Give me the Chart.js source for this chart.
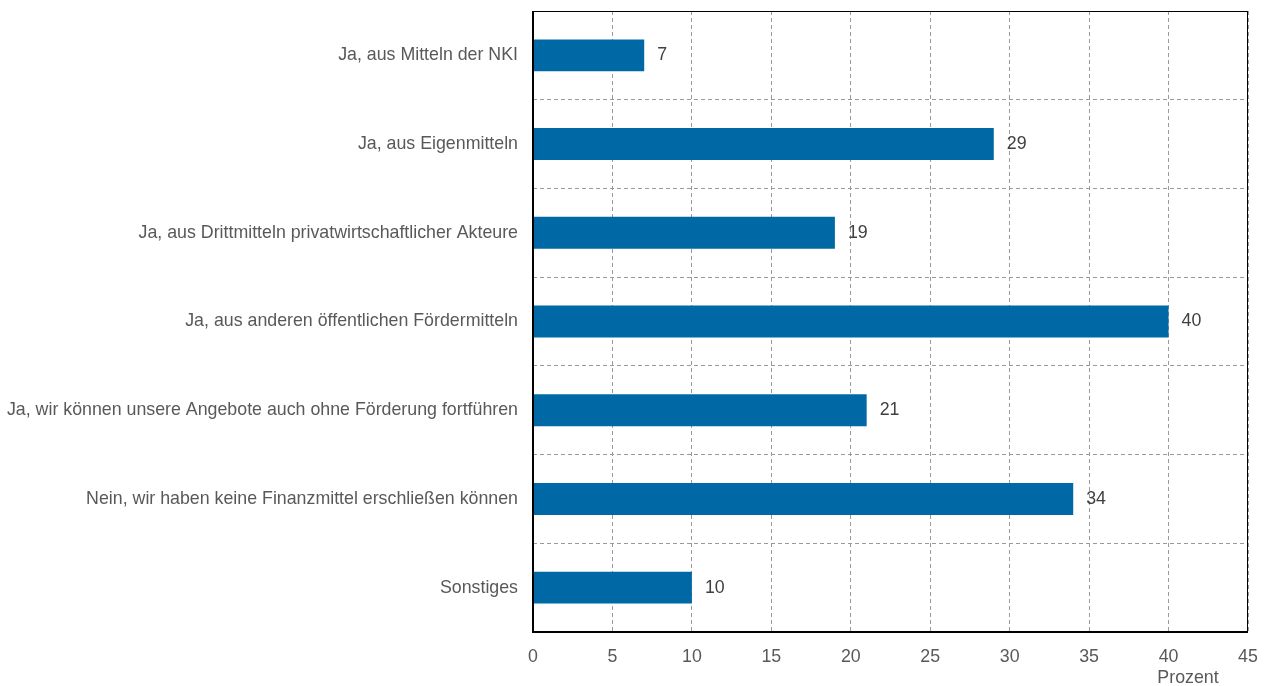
<!DOCTYPE html>
<html>
<head>
<meta charset="utf-8">
<script src="https://cdn.jsdelivr.net/npm/chart.js@4/dist/chart.umd.min.js"></script>
<style>
  html, body { margin: 0; padding: 0; background: #fff; }
  #wrap { width: 1266px; height: 686px; position: relative; }
</style>
</head>
<body>
<div id="wrap"><canvas id="c" width="1266" height="686"></canvas></div>
<script>
const categories = [
  'Ja, aus Mitteln der NKI',
  'Ja, aus Eigenmitteln',
  'Ja, aus Drittmitteln privatwirtschaftlicher Akteure',
  'Ja, aus anderen öffentlichen Fördermitteln',
  'Ja, wir können unsere Angebote auch ohne Förderung fortführen',
  'Nein, wir haben keine Finanzmittel erschließen können',
  'Sonstiges'
];
const values = [7, 29, 19, 40, 21, 34, 10];
const xTicks = [0, 5, 10, 15, 20, 25, 30, 35, 40, 45];
const axisTitle = 'Prozent';

const FONT = '"Liberation Sans", Arial, sans-serif';
const FONT_SIZE = 17.8;

// value labels next to each bar, frame around the plot and the axis title
const annotate = {
  id: 'annotate',
  afterDatasetsDraw(chart) {
    const ctx = chart.ctx;
    const meta = chart.getDatasetMeta(0);
    ctx.save();
    ctx.font = FONT_SIZE + 'px ' + FONT;
    ctx.fillStyle = '#404040';
    ctx.textAlign = 'left';
    ctx.textBaseline = 'middle';
    meta.data.forEach((bar, i) => {
      ctx.fillText(String(values[i]), bar.x + 13, bar.y);
    });
    const a = chart.chartArea;
    ctx.strokeStyle = '#000';
    ctx.lineWidth = 1;
    ctx.strokeRect(a.left + 0.5, a.top + 0.5, a.right - a.left - 1, a.bottom - a.top - 1);
    ctx.lineWidth = 2;
    ctx.beginPath();
    ctx.moveTo(a.left, a.top);
    ctx.lineTo(a.left, a.bottom);
    ctx.lineTo(a.right, a.bottom);
    ctx.stroke();
    ctx.fillStyle = '#595959';
    ctx.textAlign = 'center';
    ctx.fillText(axisTitle, a.right - 60, a.bottom + 46);
    ctx.restore();
  }
};

new Chart(document.getElementById('c'), {
  type: 'bar',
  data: {
    labels: categories,
    datasets: [{
      data: values,
      backgroundColor: '#0068a5',
      borderWidth: 0,
      barPercentage: 0.36,
      categoryPercentage: 1.0
    }]
  },
  options: {
    indexAxis: 'y',
    responsive: false,
    animation: false,
    devicePixelRatio: 1,
    layout: { padding: { top: 11, right: 18, left: 0, bottom: 0 } },
    plugins: { legend: { display: false }, tooltip: { enabled: false } },
    scales: {
      x: {
        type: 'linear',
        min: 0,
        max: 45,
        afterBuildTicks(scale) { scale.ticks = xTicks.map(v => ({ value: v })); },
        afterFit(scale) { scale.height = 54; scale.paddingLeft = 0; scale.paddingRight = 0; },
        grid: { color: '#9a9a9a', drawTicks: false, lineWidth: 1 },
        border: { display: false, dash: [4, 3] },
        ticks: { color: '#595959', font: { size: FONT_SIZE, family: FONT }, padding: 14, maxRotation: 0 }
      },
      y: {
        afterFit(scale) { scale.width = 533; scale.paddingTop = 0; scale.paddingBottom = 0; },
        grid: { color: '#9a9a9a', drawTicks: false, offset: true, lineWidth: 1 },
        border: { display: false, dash: [4, 3] },
        ticks: { color: '#595959', font: { size: FONT_SIZE, family: FONT }, padding: 15 }
      }
    }
  },
  plugins: [annotate]
});
</script>
</body>
</html>
